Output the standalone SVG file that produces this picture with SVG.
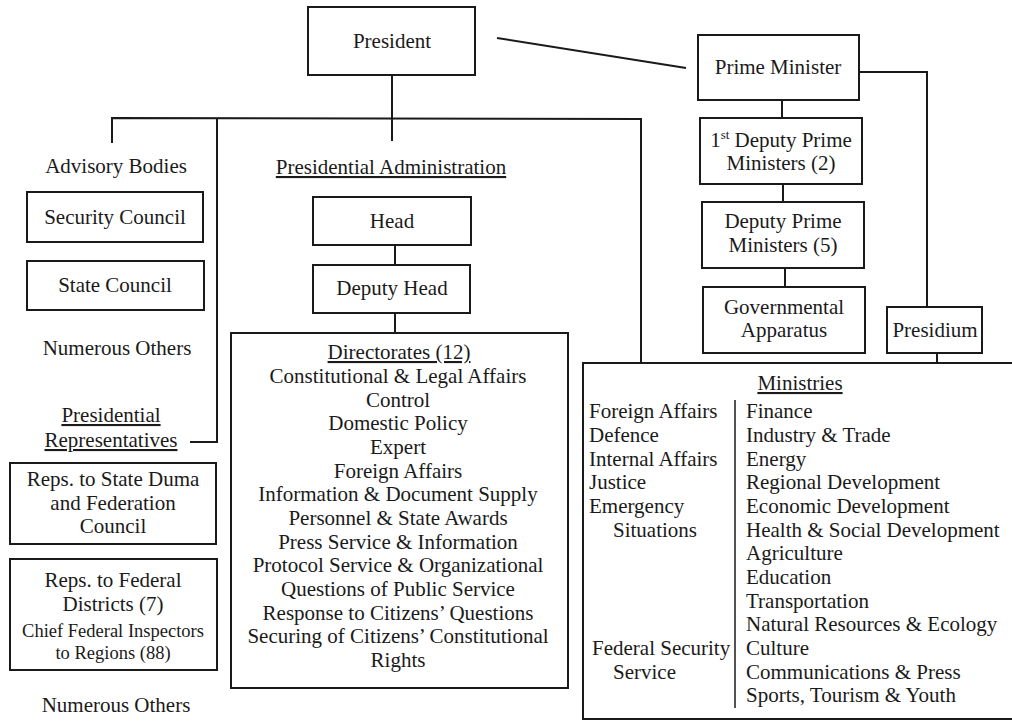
<svg xmlns="http://www.w3.org/2000/svg" width="1012" height="721" viewBox="0 0 1012 721">
<style>
.b{fill:none;stroke:#1a1a1a;stroke-width:2}
.l{fill:none;stroke:#1a1a1a;stroke-width:2}
text{font-family:"Liberation Serif","Times New Roman",serif;font-size:21px;fill:#1a1a1a}
.c{text-anchor:middle}
.u{text-decoration:underline}
.s{font-size:18.5px}
</style>
<rect width="1012" height="721" fill="#fff"/>
<g id="connectors">
<line class="l" x1="497" y1="38" x2="686" y2="68"/>
<line class="l" x1="392" y1="75" x2="392" y2="141"/>
<polyline class="l" points="112,143 112,118 641,119 641,363"/>
<polyline class="l" points="217,118 217,442 190,442"/>
<line class="l" x1="395" y1="245" x2="395" y2="265"/>
<line class="l" x1="395" y1="313" x2="395" y2="333"/>
<line class="l" x1="782" y1="100" x2="782" y2="118"/>
<line class="l" x1="783" y1="184" x2="783" y2="202"/>
<line class="l" x1="785" y1="268" x2="785" y2="287"/>
<polyline class="l" points="860,72 927,72 927,307"/>
<line class="l" x1="937" y1="353" x2="937" y2="363"/>
<line class="l" x1="735" y1="400" x2="735" y2="708" style="stroke-width:1.5"/>
</g>
<g id="president"><rect class="b" x="308" y="7" width="167" height="68"/><text class="c" x="392" y="48">President</text></g>
<g id="prime-minister"><rect class="b" x="698" y="35" width="161" height="65"/><text class="c" x="778" y="74">Prime Minister</text></g>
<g id="first-deputy-pm"><rect class="b" x="700" y="118" width="162" height="66"/><text class="c" x="781" y="147">1<tspan font-size="13" dy="-8">st</tspan><tspan dy="8"> Deputy Prime</tspan></text><text class="c" x="781" y="170">Ministers (2)</text></g>
<g id="deputy-pm"><rect class="b" x="702" y="202" width="162" height="66"/><text class="c" x="783" y="228">Deputy Prime</text><text class="c" x="783" y="252">Ministers (5)</text></g>
<g id="gov-apparatus"><rect class="b" x="703" y="287" width="162" height="66"/><text class="c" x="784" y="314">Governmental</text><text class="c" x="784" y="337">Apparatus</text></g>
<g id="presidium"><rect class="b" x="887" y="307" width="95" height="46"/><text class="c" x="935" y="337">Presidium</text></g>
<g id="advisory-bodies"><text class="c" x="116" y="173">Advisory Bodies</text></g>
<g id="security-council"><rect class="b" x="27" y="192" width="176" height="50"/><text class="c" x="115" y="224">Security Council</text></g>
<g id="state-council"><rect class="b" x="27" y="261" width="177" height="49"/><text class="c" x="115" y="292">State Council</text></g>
<g id="numerous-others-1"><text class="c" x="117" y="355">Numerous Others</text></g>
<g id="presidential-representatives"><text class="c u" x="111" y="422">Presidential</text><text class="c u" x="111" y="447">Representatives</text></g>
<g id="reps-duma"><rect class="b" x="10" y="463" width="206" height="81"/><text class="c" x="113" y="486">Reps. to State Duma</text><text class="c" x="113" y="510">and Federation</text><text class="c" x="113" y="533">Council</text></g>
<g id="reps-districts"><rect class="b" x="10" y="559" width="207" height="111"/><text class="c" x="113" y="587">Reps. to Federal</text><text class="c" x="113" y="611">Districts (7)</text><text class="c s" x="113" y="637">Chief Federal Inspectors</text><text class="c s" x="113" y="659">to Regions (88)</text></g>
<g id="numerous-others-2"><text class="c" x="116" y="712">Numerous Others</text></g>
<g id="presidential-administration"><text class="c u" x="391" y="174">Presidential Administration</text></g>
<g id="head"><rect class="b" x="313" y="197" width="158" height="48"/><text class="c" x="392" y="228">Head</text></g>
<g id="deputy-head"><rect class="b" x="313" y="265" width="157" height="48"/><text class="c" x="392" y="295">Deputy Head</text></g>
<g id="directorates"><rect class="b" x="231" y="333" width="337" height="355"/>
<text class="c u" x="399" y="359">Directorates (12)</text>
<text class="c" x="398" y="383">Constitutional &amp; Legal Affairs</text>
<text class="c" x="398" y="407">Control</text>
<text class="c" x="398" y="430">Domestic Policy</text>
<text class="c" x="398" y="454">Expert</text>
<text class="c" x="398" y="478">Foreign Affairs</text>
<text class="c" x="398" y="501">Information &amp; Document Supply</text>
<text class="c" x="398" y="525">Personnel &amp; State Awards</text>
<text class="c" x="398" y="549">Press Service &amp; Information</text>
<text class="c" x="398" y="572">Protocol Service &amp; Organizational</text>
<text class="c" x="398" y="596">Questions of Public Service</text>
<text class="c" x="398" y="620">Response to Citizens’ Questions</text>
<text class="c" x="398" y="643">Securing of Citizens’ Constitutional</text>
<text class="c" x="398" y="667">Rights</text>
</g>
<g id="ministries"><rect class="b" x="583" y="363" width="440" height="356"/>
<text class="c u" x="800" y="390">Ministries</text>
<text x="589" y="418">Foreign Affairs</text>
<text x="589" y="442">Defence</text>
<text x="589" y="466">Internal Affairs</text>
<text x="589" y="489">Justice</text>
<text x="589" y="513">Emergency</text>
<text x="613" y="537">Situations</text>
<text x="592" y="655">Federal Security</text>
<text x="613" y="679">Service</text>
<text x="746" y="418">Finance</text>
<text x="746" y="442">Industry &amp; Trade</text>
<text x="746" y="466">Energy</text>
<text x="746" y="489">Regional Development</text>
<text x="746" y="513">Economic Development</text>
<text x="746" y="537">Health &amp; Social Development</text>
<text x="746" y="560">Agriculture</text>
<text x="746" y="584">Education</text>
<text x="746" y="608">Transportation</text>
<text x="746" y="631">Natural Resources &amp; Ecology</text>
<text x="746" y="655">Culture</text>
<text x="746" y="679">Communications &amp; Press</text>
<text x="746" y="702">Sports, Tourism &amp; Youth</text>
</g>
</svg>
